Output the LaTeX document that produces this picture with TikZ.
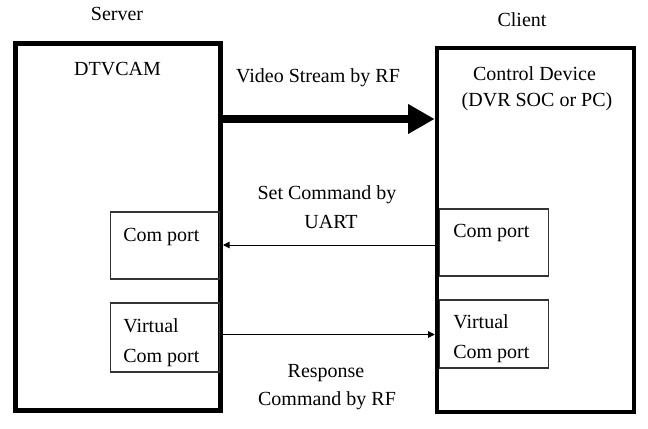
\documentclass[tikz,border=0pt]{standalone}
\usepackage{fontspec}
\setmainfont{Liberation Serif}
\usetikzlibrary{arrows.meta}
\begin{document}
\begin{tikzpicture}[x=0.75pt,y=-0.75pt,
  every node/.style={font=\fontsize{15}{18}\selectfont},
  txt/.style={inner sep=0pt, anchor=base},
  ltxt/.style={inner sep=0pt, anchor=base west},
  bigbox/.style={draw=black, line width=3.75pt, inner sep=0pt},
  portbox/.style={draw=black!80, line width=1pt, inner sep=0pt, outer sep=0pt,
    minimum width=82pt},
  thick arrow/.style={line width=6pt, -{Triangle[length=20pt,width=21pt]}},
  thin arrow/.style={line width=0.75pt, -{Triangle[length=5pt,width=5pt]}}]
\useasboundingbox (0,0) rectangle (648,428);
% big boxes
\node[bigbox, minimum width=153.75pt, minimum height=274.5pt] (L) at (118,227) {};
\node[bigbox, line width=3.4pt, minimum width=147.75pt, minimum height=273pt] (R) at (535.5,230) {};
% port boxes
\node[portbox, minimum height=50.25pt] (LC) at (165,245.5) {};
\node[portbox, minimum height=51.75pt] (LV) at (165,337.5) {};
\node[portbox, minimum height=50.25pt] (RC) at (494,242.5) {};
\node[portbox, minimum height=51pt] (RV) at (494,334) {};
% titles
\node[txt] (server) at (117,21) {Server};
\node[txt] (client) at (522,27) {Client};
\node[txt] (dtv) at (117.5,75) {DTVCAM};
\node[txt] (cd1) at (534.5,80) {Control Device};
\node[txt] (cd2) at (537,106) {(DVR SOC or PC)};
% port texts
\node[ltxt] (lct) at (123,241) {Com port};
\node[ltxt] (lvt1) at (123,332) {Virtual};
\node[ltxt] (lvt2) at (123,362) {Com port};
\node[ltxt] (rct) at (453,237) {Com port};
\node[ltxt] (rvt1) at (453,328) {Virtual};
\node[ltxt] (rvt2) at (453,358) {Com port};
% connector labels
\node[txt] (vs) at (318,82) {Video Stream by RF};
\node[txt] (sc1) at (327,199) {Set Command by};
\node[txt] (sc2) at (331,228) {UART};
\node[txt] (rc1) at (326,377) {Response};
\node[txt] (rc2) at (327,405) {Command by RF};
% connectors
\coordinate (ya) at (0,119);
\coordinate (yb) at (0,245);
\coordinate (yc) at (0,334.5);
\draw[thick arrow] (L.east |- ya) -- (R.west |- ya);
\draw[thin arrow] (R.west |- yb) -- (L.east |- yb);
\draw[thin arrow] (L.east |- yc) -- (R.west |- yc);
\end{tikzpicture}
\end{document}
